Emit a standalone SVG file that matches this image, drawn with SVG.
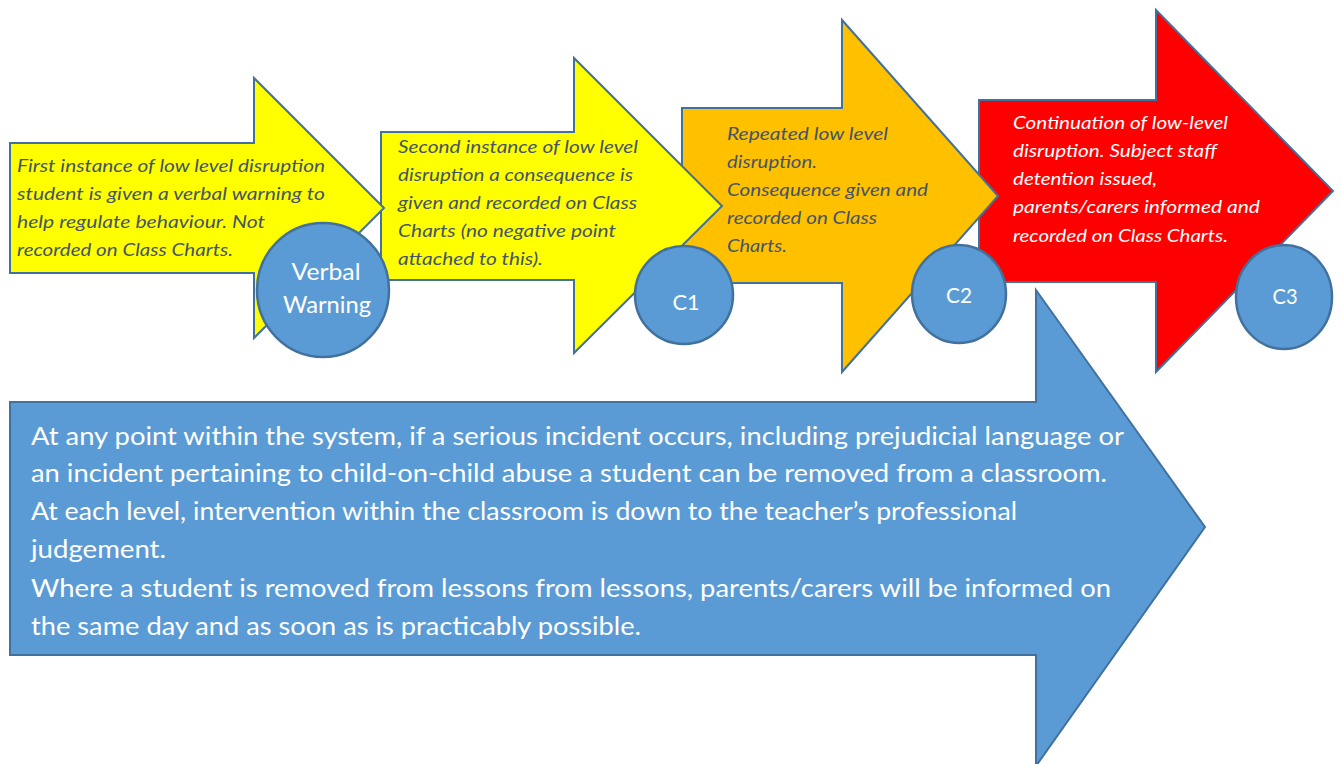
<svg xmlns="http://www.w3.org/2000/svg" width="1341" height="764" viewBox="0 0 1341 764">
<style>
.arr{stroke:#41719c;stroke-width:2;stroke-linejoin:miter}
.circ{fill:#5b9bd5;stroke:#41719c;stroke-width:2.5}
.it{font-family:Lato,"Liberation Sans",sans-serif;font-style:italic;font-size:18px}
.dk{fill:#44546a}
.wt{fill:#ffffff}
.ct{font-family:Lato,"Liberation Sans",sans-serif;fill:#ffffff;text-anchor:middle}
.bt{font-family:Lato,"Liberation Sans",sans-serif;font-size:24.5px;fill:#ffffff}
</style>
<rect width="1341" height="764" fill="#ffffff"/>
<g id="blue-arrow">
<polygon class="arr" fill="#5b9bd5" points="10,402 1036,402 1036,290 1205,527 1036,766 1036,655 10,655"/>
<text class="bt" x="31" y="445" textLength="1093" lengthAdjust="spacingAndGlyphs">At any point within the system, if a serious incident occurs, including prejudicial language or</text>
<text class="bt" x="31" y="482" textLength="1076" lengthAdjust="spacingAndGlyphs">an incident pertaining to child-on-child abuse a student can be removed from a classroom.</text>
<text class="bt" x="31" y="520" textLength="986" lengthAdjust="spacingAndGlyphs">At each level, intervention within the classroom is down to the teacher’s professional</text>
<text class="bt" x="31" y="558" textLength="135" lengthAdjust="spacingAndGlyphs">judgement.</text>
<text class="bt" x="31" y="597" textLength="1080" lengthAdjust="spacingAndGlyphs">Where a student is removed from lessons from lessons, parents/carers will be informed on</text>
<text class="bt" x="31" y="635" textLength="610" lengthAdjust="spacingAndGlyphs">the same day and as soon as is practicably possible.</text>
</g>
<g id="arrow-c3">
<polygon class="arr" fill="#ff0000" points="979,100 1156,100 1156,10 1333,191 1156,372 1156,282 979,282"/>
<text class="it wt" x="1013" y="129" textLength="215" lengthAdjust="spacingAndGlyphs">Continuation of low-level</text>
<text class="it wt" x="1013" y="157" textLength="204" lengthAdjust="spacingAndGlyphs">disruption. Subject staff</text>
<text class="it wt" x="1013" y="185" textLength="144" lengthAdjust="spacingAndGlyphs">detention issued,</text>
<text class="it wt" x="1013" y="213" textLength="247" lengthAdjust="spacingAndGlyphs">parents/carers informed and</text>
<text class="it wt" x="1013" y="242" textLength="215" lengthAdjust="spacingAndGlyphs">recorded on Class Charts.</text>
</g>
<g id="arrow-c2">
<polygon class="arr" fill="#ffc000" points="682,108 842,108 842,20 998,196 842,372 842,283 682,283"/>
<text class="it dk" x="727" y="140" textLength="161" lengthAdjust="spacingAndGlyphs">Repeated low level</text>
<text class="it dk" x="727" y="168" textLength="90" lengthAdjust="spacingAndGlyphs">disruption.</text>
<text class="it dk" x="727" y="196" textLength="201" lengthAdjust="spacingAndGlyphs">Consequence given and</text>
<text class="it dk" x="727" y="224" textLength="150" lengthAdjust="spacingAndGlyphs">recorded on Class</text>
<text class="it dk" x="727" y="252" textLength="60" lengthAdjust="spacingAndGlyphs">Charts.</text>
</g>
<g id="arrow-c1">
<polygon class="arr" fill="#ffff00" points="381,132 574,132 574,58 722,206 574,353 574,280 381,280"/>
<text class="it dk" x="398" y="153" textLength="240" lengthAdjust="spacingAndGlyphs">Second instance of low level</text>
<text class="it dk" x="398" y="181" textLength="235" lengthAdjust="spacingAndGlyphs">disruption a consequence is</text>
<text class="it dk" x="398" y="209" textLength="239" lengthAdjust="spacingAndGlyphs">given and recorded on Class</text>
<text class="it dk" x="398" y="237" textLength="218" lengthAdjust="spacingAndGlyphs">Charts (no negative point</text>
<text class="it dk" x="398" y="265" textLength="145" lengthAdjust="spacingAndGlyphs">attached to this).</text>
</g>
<g id="arrow-verbal">
<polygon class="arr" fill="#ffff00" points="10,143 254,143 254,78 384,208 254,338 254,273 10,273"/>
<text class="it dk" x="17" y="172" textLength="308" lengthAdjust="spacingAndGlyphs">First instance of low level disruption</text>
<text class="it dk" x="17" y="200" textLength="308" lengthAdjust="spacingAndGlyphs">student is given a verbal warning to</text>
<text class="it dk" x="17" y="228" textLength="248" lengthAdjust="spacingAndGlyphs">help regulate behaviour. Not</text>
<text class="it dk" x="17" y="256" textLength="216" lengthAdjust="spacingAndGlyphs">recorded on Class Charts.</text>
</g>
<g id="node-verbal-warning">
<ellipse class="circ" cx="323" cy="290" rx="66" ry="67"/>
<text class="ct" x="326" y="280" font-size="23" textLength="69" lengthAdjust="spacingAndGlyphs">Verbal</text>
<text class="ct" x="327" y="313" font-size="23" textLength="88" lengthAdjust="spacingAndGlyphs">Warning</text>
</g>
<g id="node-c1">
<ellipse class="circ" cx="684" cy="295" rx="49" ry="49"/>
<text class="ct" x="686" y="310" font-size="21" textLength="27" lengthAdjust="spacingAndGlyphs">C1</text>
</g>
<g id="node-c2">
<ellipse class="circ" cx="959" cy="294" rx="47" ry="49"/>
<text class="ct" x="959" y="303" font-size="21" textLength="26" lengthAdjust="spacingAndGlyphs">C2</text>
</g>
<g id="node-c3">
<ellipse class="circ" cx="1284" cy="297" rx="48" ry="52"/>
<text class="ct" x="1285" y="304" font-size="21" textLength="25" lengthAdjust="spacingAndGlyphs">C3</text>
</g>
<g id="connectors"/>
</svg>
